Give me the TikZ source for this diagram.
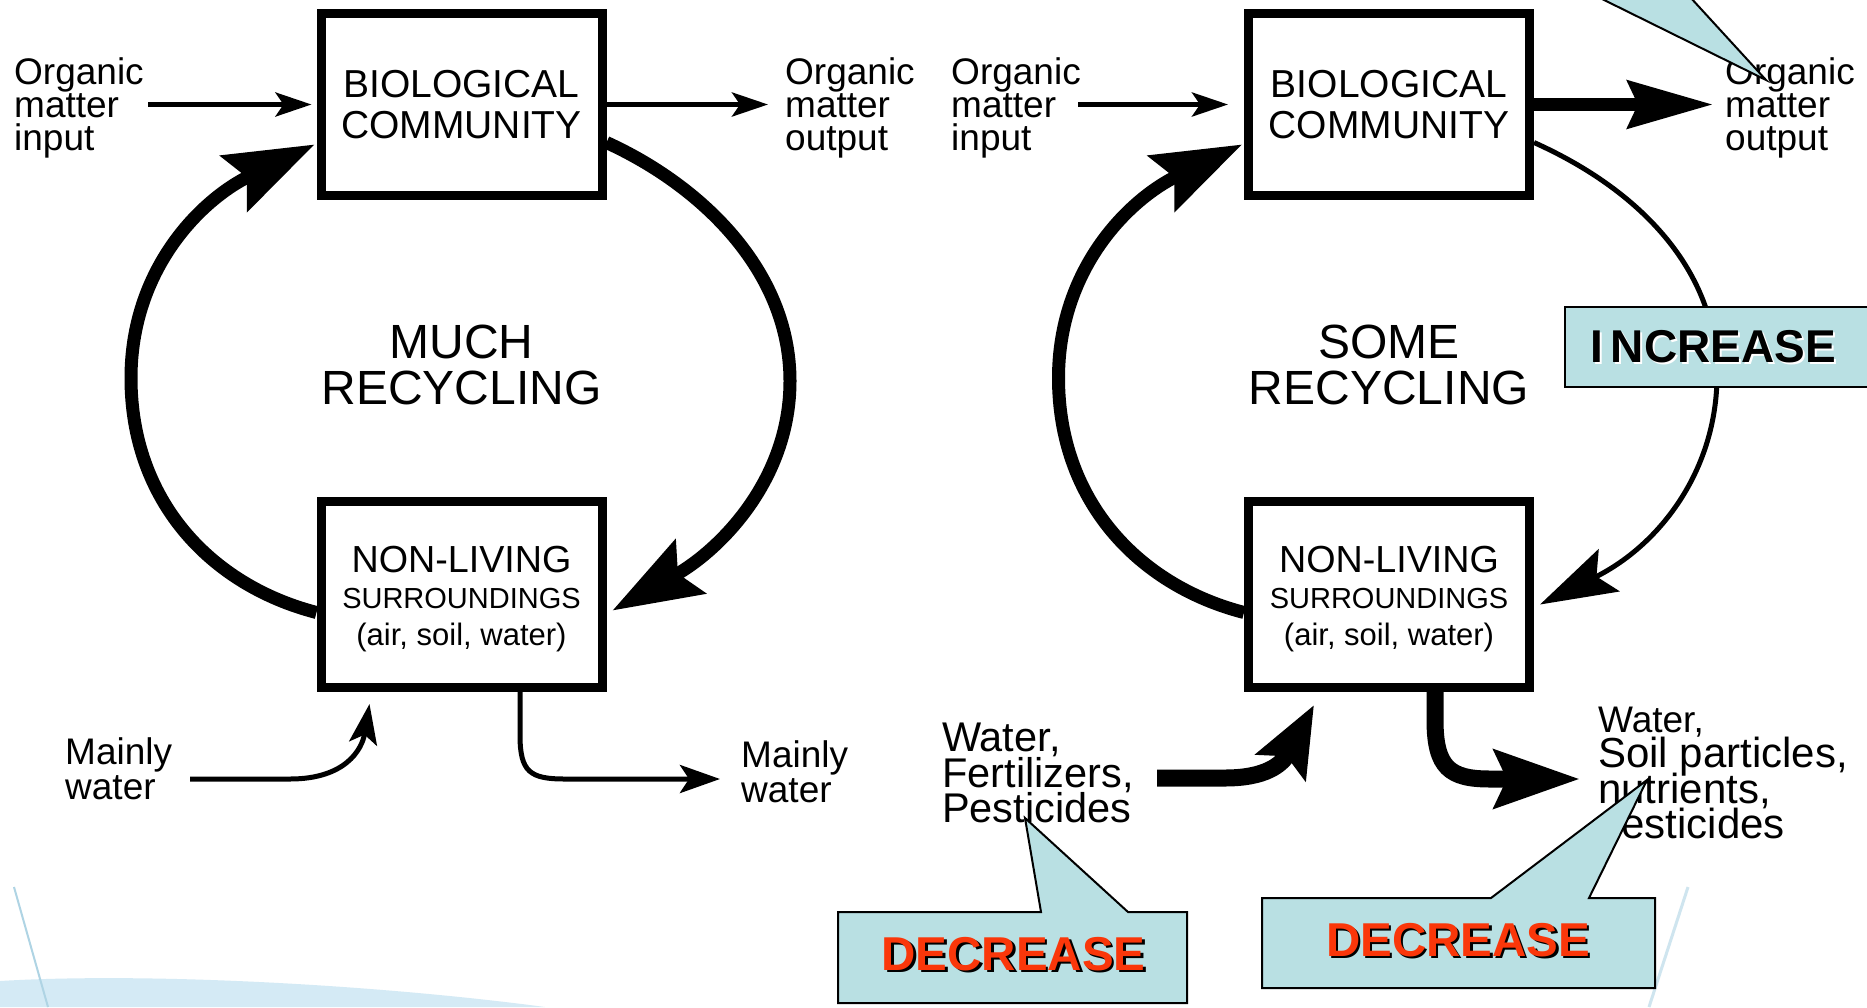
\documentclass[tikz,border=0pt]{standalone}
\usepackage{fontspec}
\setmainfont{Liberation Sans}
\usetikzlibrary{arrows.meta,calc}
\definecolor{callfill}{RGB}{185,224,227}
\definecolor{decred}{RGB}{250,55,10}
\definecolor{bgblue}{RGB}{212,234,245}
\definecolor{bgline}{RGB}{175,212,228}
\newcommand\fsz[2]{\fontsize{#1}{#2}\selectfont\lineskiplimit=-1000pt\lineskip=0pt}
\begin{document}
\begin{tikzpicture}[x=1pt,y=-1pt,
  box/.style={draw, line width=9pt, fill=white, minimum width=281pt, inner sep=0pt},
  lbl/.style={inner sep=0pt, anchor=north west, align=left},
  boxtxt/.style={inner sep=0pt, anchor=base},
  thinarr/.style={line width=5pt, -{Stealth[length=36pt,width=24pt,inset=8pt]}},
  bentarr/.style={line width=5pt, -{Stealth[length=40pt,width=28pt,inset=9pt]}},
  thickloop/.style={line width=13pt, -{Stealth[length=89pt,width=61pt,inset=14pt]}},
  thinloop/.style={line width=5pt, -{Stealth[length=77pt,width=47pt,inset=14pt]}},
  thickout/.style={line width=13pt, -{Stealth[length=85pt,width=47pt,inset=10pt]}},
  thickbent/.style={line width=17pt, -{Stealth[length=70pt,width=55pt,inset=12pt]}},
  thickbent2/.style={line width=17pt, -{Stealth[length=85pt,width=57pt,inset=12pt]}},
  callout/.style={fill=callfill, draw=black, line width=2pt, line join=miter},
  decr/.style={inner sep=0pt, font=\fsz{47.5}{50}\bfseries},
]
\useasboundingbox (0,0) rectangle (1867,1007);
\fill[white] (0,0) rectangle (1867,1007);
% faint slide background
\fill[bgblue] (0,1007) -- (0,981) .. controls (150,972) and (380,985) .. (545,1007) -- cycle;
\draw[bgline, line width=2pt] (14,887) -- (48,1007);
\draw[bgline!60, line width=3pt] (1688,887) -- (1649,1007);

% ===== LEFT DIAGRAM =====
\node[box, minimum height=182pt, font=\fsz{39}{41}, align=center] (bioL) at (461.5,104.5) {BIOLOGICAL\\COMMUNITY};
\node[box, minimum height=186pt] (nlL) at (461.5,594.5) {};
\node[boxtxt, font=\fsz{37.7}{40}] (nlL1) at (461.5,572) {NON-LIVING};
\node[boxtxt, font=\fsz{29}{32}] (nlL2) at (461.5,608) {SURROUNDINGS};
\node[boxtxt, font=\fsz{31}{34}] (nlL3) at (461.5,645) {(air, soil, water)};
\node[inner sep=0pt, align=center, font=\fsz{48}{46}] (much) at (461.5,365) {MUCH\\RECYCLING};

\node[lbl, font=\fsz{37}{33}] (inL) at (14,57) {Organic\\matter\\input};
\node[lbl, font=\fsz{37}{33}] (outL) at (785,57) {Organic\\matter\\output};
\node[lbl, font=\fsz{37}{35}] (mwL) at (65,737.5) {Mainly\\water};
\node[lbl, font=\fsz{37}{35}] (mwR) at (741,740) {Mainly\\water};

\coordinate (inLs) at (148,104.5);
\coordinate (outLe) at (768,104.5);
\coordinate (mwLs) at (190,779);
\coordinate (mwRe) at (720,779);

\draw[thinarr] (inLs) -- ($(bioL.west)+(-5,0)$);
\draw[thinarr] (bioL.east) -- (outLe);
\draw[thickloop] ($(nlL.west)+(0,18)$) .. controls (210,585) and (131,500) .. (131,378)
   .. controls (131,270) and (200,200) .. ($(bioL.west)+(-2,40)$);
\draw[thickloop] ($(bioL.east)+(0,38)$) .. controls (700,185) and (790,270) .. (790,381)
   .. controls (790,480) and (720,550) .. ($(nlL.east)+(6,16)$);
\draw[bentarr] (mwLs) -- (290,779) .. controls (345,779) and (362,750) .. ($(nlL.south west)+(53,12)$);
\draw[bentarr] ($(nlL.south)+(58.5,0)$) -- (520,735) .. controls (520,772) and (530,779) .. (565,779) -- (mwRe);

% ===== RIGHT DIAGRAM =====
\node[box, minimum height=182pt, font=\fsz{39}{41}, align=center] (bioR) at (1389,104.5) {BIOLOGICAL\\COMMUNITY};
\node[box, minimum height=186pt] (nlR) at (1389,594.5) {};
\node[boxtxt, font=\fsz{37.7}{40}] (nlR1) at (1389,572) {NON-LIVING};
\node[boxtxt, font=\fsz{29}{32}] (nlR2) at (1389,608) {SURROUNDINGS};
\node[boxtxt, font=\fsz{31}{34}] (nlR3) at (1389,645) {(air, soil, water)};
\node[inner sep=0pt, align=center, font=\fsz{48}{46}] (some) at (1389,365) {SOME\\RECYCLING};

\node[lbl, font=\fsz{37}{33}] (inR) at (951,57) {Organic\\matter\\input};
\node[lbl, font=\fsz{37}{33}] (outR) at (1725,57) {Organic\\matter\\output};
\node[lbl, font=\fsz{41.5}{35.5}] (wfp) at (942,723) {Water,\\Fertilizers,\\Pesticides};
\node[lbl, font=\fsz{42}{35.5}] (soil) at (1598,706.5) {{\fsz{37}{35.5}Water,}\\Soil particles,\\nutrients,\\pesticides};

\coordinate (inRs) at (1078,104.5);
\coordinate (outRe) at (1713,104.5);
\coordinate (wfpS) at (1157,778);
\coordinate (soilE) at (1580,779);

\draw[thinarr] (inRs) -- ($(bioR.west)+(-16,0)$);
\draw[thickout] (bioR.east) -- (outRe);
\draw[thickloop] ($(nlR.west)+(0,18)$) .. controls (1137.5,585) and (1058.5,500) .. (1058.5,378)
   .. controls (1058.5,270) and (1127.5,200) .. ($(bioR.west)+(-2,40)$);
\draw[thinloop] ($(bioR.east)+(0,38)$) .. controls (1640,190) and (1717,270) .. (1717,375)
   .. controls (1717,470) and (1660,545) .. ($(nlR.east)+(6,10)$);
\draw[thickbent] (wfpS) -- (1225,778) .. controls (1265,778) and (1282,765) .. ($(nlR.south west)+(70,13)$);
\draw[thickbent2] ($(nlR.south)+(46,0)$) -- (1435,720) .. controls (1435,768) and (1450,779) .. (1490,779) -- (soilE);

% ===== CALLOUTS =====
% INCREASE
\path[fill=callfill, draw=black, line width=2.5pt] (1565,307) rectangle (1885,387);
\node[inner sep=0pt, font=\fsz{46}{48}\bfseries, white] at (1715,349) {I\hspace{8pt}NCREASE};
\node[inner sep=0pt, font=\fsz{46}{48}\bfseries] (incr) at (1713,347) {I\hspace{8pt}NCREASE};
% top pointer
\fill[callfill] (1598,-3) -- (1766,80) -- (1690,-3) -- cycle;
\draw[black, line width=2pt] (1598,-3) -- (1766,80) -- (1690,-3);
% DECREASE 1
\draw[callout] (838,912) -- (1041,912) -- (1025,818) -- (1128,912) -- (1187,912) -- (1187,1003) -- (838,1003) -- cycle;
\node[decr, black] at (1016,956.5) {DECREASE};
\node[decr, decred] (dec1) at (1013.5,954) {DECREASE};
% DECREASE 2
\draw[callout] (1262,898) -- (1491,898) -- (1647,780) -- (1589,898) -- (1655,898) -- (1655,988) -- (1262,988) -- cycle;
\node[decr, black] at (1460.5,942.5) {DECREASE};
\node[decr, decred] (dec2) at (1458,940) {DECREASE};
\end{tikzpicture}
\end{document}
